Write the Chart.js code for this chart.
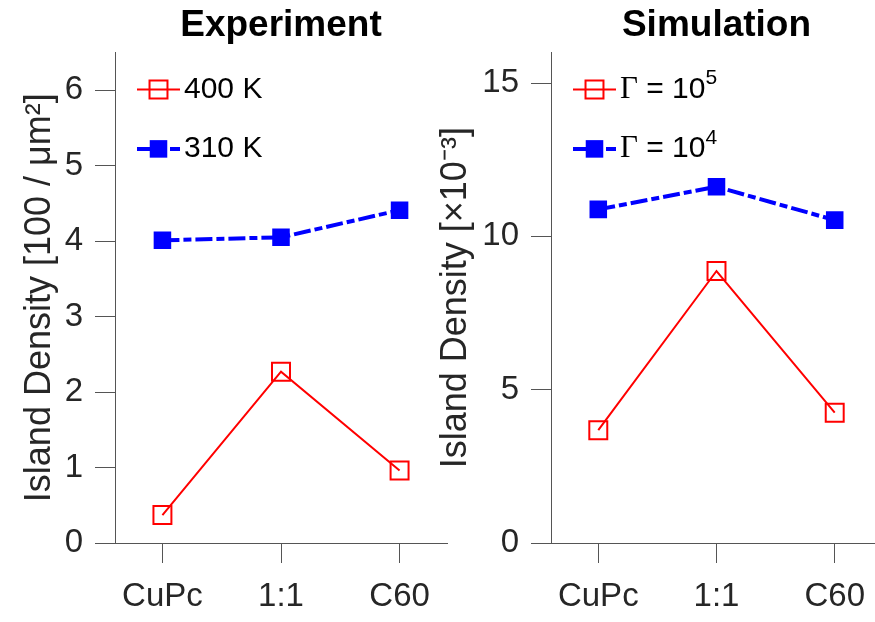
<!DOCTYPE html>
<html>
<head>
<meta charset="utf-8">
<script src="https://cdn.jsdelivr.net/npm/chart.js@4.4.0/dist/chart.umd.min.js"></script>
<style>
  html, body { margin: 0; padding: 0; background: #fff; }
  #wrap { position: relative; width: 875px; height: 622px; overflow: hidden; }
  #expCanvas { position: absolute; left: 0; top: 0; }
  #simCanvas { position: absolute; left: 415px; top: 0; }
</style>
</head>
<body>
<div id="wrap">
  <canvas id="expCanvas" width="470" height="622"></canvas>
  <canvas id="simCanvas" width="475" height="622"></canvas>
</div>
<script>
const categories = ['CuPc', '1:1', 'C60'];

// Experiment panel
const expLabels = ['400 K', '310 K'];
const exp400K = [0.37, 2.27, 0.96];
const exp310K = [4.01, 4.05, 4.41];
const expYTicks = [0, 1, 2, 3, 4, 5, 6];

// Simulation panel
const simLabels = ['Γ = 10⁵', 'Γ = 10⁴'];
const simG1e5 = [3.68, 8.87, 4.25];
const simG1e4 = [10.88, 11.62, 10.53];
const simYTicks = [0, 5, 10, 15];

const SANS = '"Liberation Sans", Arial, Helvetica, sans-serif';
const SERIF = '"Liberation Serif", "Times New Roman", serif';
const AXIS_GRAY = '#555555';
const TEXT_GRAY = '#262626';

function toPoints(values) {
    return values.map((v, i) => ({ x: i + 1, y: v }));
}

function redSeries(label, values) {
    return {
        label: label,
        data: toPoints(values),
        borderColor: '#FF0000',
        borderWidth: 2,
        pointStyle: 'rect',
        pointRadius: 12.7,
        pointBackgroundColor: 'rgba(0,0,0,0)',
        pointBorderColor: '#FF0000',
        pointBorderWidth: 2
    };
}

function blueSeries(label, values) {
    return {
        label: label,
        data: toPoints(values),
        borderColor: '#0000FF',
        borderWidth: 4,
        borderDash: [17, 4, 8, 4],
        pointStyle: 'rect',
        pointRadius: 12.4,
        pointBackgroundColor: '#0000FF',
        pointBorderColor: '#0000FF',
        pointBorderWidth: 0
    };
}

// MATLAB-like legend drawn inside the axes, top-left, no box
const SUPERS = { '⁰': '0', '¹': '1', '²': '2', '³': '3', '⁴': '4', '⁵': '5', '⁶': '6', '⁷': '7', '⁸': '8', '⁹': '9' };
const insideLegend = {
    id: 'insideLegend',
    afterDatasetsDraw(chart) {
        const ctx = chart.ctx;
        const area = chart.chartArea;
        chart.data.datasets.forEach((ds, i) => {
            const y = area.top + 37 + 59.5 * i;
            const x0 = area.left + 22;
            ctx.save();
            ctx.strokeStyle = ds.borderColor;
            ctx.lineWidth = ds.borderWidth;
            ctx.setLineDash(ds.borderDash || []);
            ctx.beginPath();
            ctx.moveTo(x0, y);
            ctx.lineTo(x0 + 43, y);
            ctx.stroke();
            ctx.setLineDash([]);
            ctx.fillStyle = ds.pointBackgroundColor;
            ctx.strokeStyle = ds.pointBorderColor;
            ctx.lineWidth = ds.pointBorderWidth;
            Chart.helpers.drawPoint(ctx, {
                pointStyle: 'rect', rotation: 0, radius: ds.pointRadius, borderWidth: ds.pointBorderWidth
            }, x0 + 21.5, y);

            let x = area.left + 69;
            ctx.fillStyle = '#000000';
            ctx.textBaseline = 'middle';
            ctx.textAlign = 'left';
            for (const ch of ds.label) {
                let c = ch, yy = y;
                if (ch === 'Γ') {
                    ctx.font = '31px ' + SERIF;
                } else if (SUPERS[ch]) {
                    c = SUPERS[ch];
                    ctx.font = '21px ' + SANS;
                    yy = y - 11;
                } else {
                    ctx.font = '30px ' + SANS;
                }
                ctx.fillText(c, x, yy);
                x += ctx.measureText(c).width;
            }
            ctx.restore();
        });
    }
};

function panelOptions(title, yLabel, yMax, yTicks, yWidth, yTitlePad, padRight) {
    return {
        responsive: false,
        animation: false,
        layout: { autoPadding: false, padding: { left: 0, right: padRight, top: 0, bottom: 0 } },
        plugins: {
            legend: { display: false },
            tooltip: { enabled: false },
            title: {
                display: true,
                text: title,
                fullSize: false,
                color: '#000000',
                font: { family: SANS, size: 37, weight: 'bold' },
                padding: { top: 4, bottom: 4 }
            }
        },
        scales: {
            x: {
                type: 'linear',
                min: 0.6,
                max: 3.4,
                afterBuildTicks: function(scale) {
                    scale.ticks = categories.map((c, i) => ({ value: i + 1 }));
                },
                afterFit: function(scale) {
                    scale.height = 79;
                    scale.paddingLeft = 0;
                    scale.paddingRight = 0;
                },
                ticks: {
                    callback: v => categories[v - 1],
                    autoSkip: false,
                    maxRotation: 0,
                    padding: 14,
                    color: TEXT_GRAY,
                    font: { family: SANS, size: 33 }
                },
                grid: { drawOnChartArea: false, drawTicks: true, tickLength: 20, color: AXIS_GRAY, lineWidth: 1 },
                border: { display: true, color: AXIS_GRAY, width: 1 }
            },
            y: {
                min: 0,
                max: yMax,
                afterBuildTicks: function(scale) {
                    scale.ticks = yTicks.map(v => ({ value: v }));
                },
                afterFit: function(scale) { scale.width = yWidth; },
                ticks: {
                    padding: 12,
                    color: TEXT_GRAY,
                    font: { family: SANS, size: 33 }
                },
                grid: { drawOnChartArea: false, drawTicks: true, tickLength: 20, color: AXIS_GRAY, lineWidth: 1 },
                border: { display: true, color: AXIS_GRAY, width: 1 },
                title: {
                    display: true,
                    text: yLabel,
                    color: TEXT_GRAY,
                    font: { family: SANS, size: 36 },
                    padding: { top: yTitlePad, bottom: 0 }
                }
            }
        }
    };
}

new Chart(document.getElementById('expCanvas').getContext('2d'), {
    type: 'line',
    data: {
        datasets: [redSeries(expLabels[0], exp400K), blueSeries(expLabels[1], exp310K)]
    },
    options: panelOptions('Experiment', 'Island Density [100 / μm²]', 6.5, expYTicks, 115, 18, 23),
    plugins: [insideLegend]
});

// right axes runs past the window edge (clipped by #wrap), as in the original
new Chart(document.getElementById('simCanvas').getContext('2d'), {
    type: 'line',
    data: {
        datasets: [redSeries(simLabels[0], simG1e5), blueSeries(simLabels[1], simG1e4)]
    },
    options: panelOptions('Simulation', 'Island Density [×10⁻³]', 16, simYTicks, 136, 19, 8),
    plugins: [insideLegend]
});
</script>
</body>
</html>
